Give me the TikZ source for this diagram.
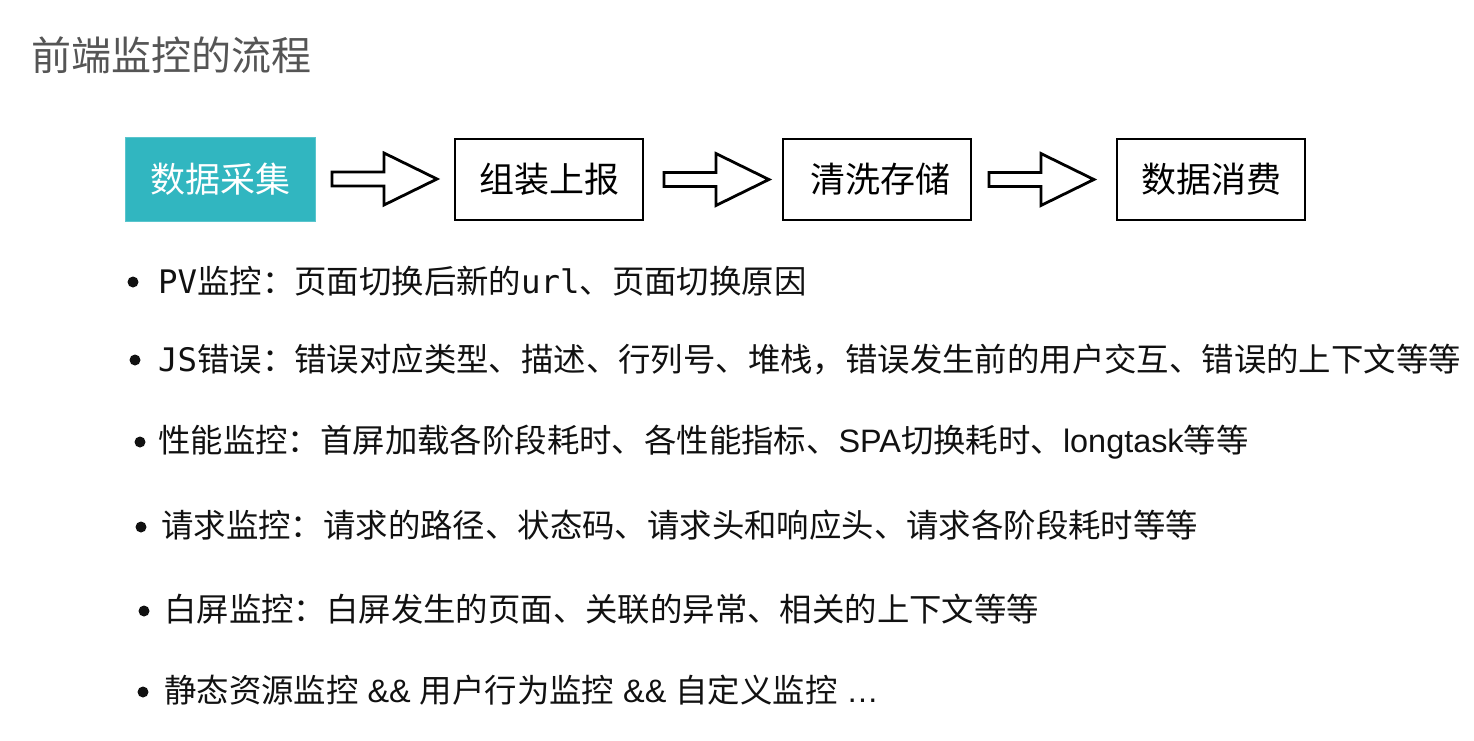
\documentclass[tikz,border=0pt]{standalone}
\usepackage{fontspec}
\setmainfont{Noto Sans CJK SC}
\newfontfamily\monofnt{DejaVu Sans Mono}
\newfontfamily\latfnt{Liberation Sans}
\usetikzlibrary{calc}
\definecolor{teal1}{HTML}{31B6C0}
\definecolor{titlegray}{HTML}{555555}
\definecolor{txt}{HTML}{111111}
\tikzset{
  stagebox/.style={draw=black, line width=2.8pt, minimum width=188pt, minimum height=81pt, inner sep=0pt,
    font=\fontsize{35}{40}\selectfont},
  firstbox/.style={fill=teal1, draw=teal1!80!white, line width=1pt, minimum width=190pt, minimum height=84pt, inner sep=0pt,
    text=white, font=\fontsize{35}{40}\selectfont},
  blockarrow/.style={draw=black, line width=2.8pt, line join=miter, fill=white},
  bulletdot/.style={circle, fill=txt, inner sep=0pt, minimum size=11pt},
  itemtext/.style={anchor=base west, inner sep=0pt, text=txt, font=\fontsize{32.4}{40}\selectfont},
}
\begin{document}
\begin{tikzpicture}[x=1pt, y=-1pt]
\useasboundingbox[fill=white] (0,0) rectangle (1474,740);
\node[anchor=base west, inner sep=0pt, text=titlegray, font=\fontsize{40}{48}\selectfont] (title) at (31,70) {前端监控的流程};

\node[firstbox] (b1) at (220,179) {数据采集};
\node[stagebox] (b2) at (549,179.5) {组装上报};
\node[stagebox] (b3) at (877,179.5) {\hspace*{6pt}清洗存储};
\node[stagebox] (b4) at (1211,179.5) {数据消费};

\draw[blockarrow] ($(b1.east)+(16.5,0)$) coordinate (s1) -- ++(0,-7) -- ++(52,0) -- ++(0,-19) -- ++(53,26) -- ++(-53,26) -- ++(0,-19) -- ++(-52,0) -- cycle;
\draw[blockarrow] ($(b2.east)+(19.5,0)$) coordinate (s2) -- ++(0,-7) -- ++(52,0) -- ++(0,-19) -- ++(53,26) -- ++(-53,26) -- ++(0,-19) -- ++(-52,0) -- cycle;
\draw[blockarrow] ($(b3.east)+(16.5,0)$) coordinate (s3) -- ++(0,-7) -- ++(52,0) -- ++(0,-19) -- ++(53,26) -- ++(-53,26) -- ++(0,-19) -- ++(-52,0) -- cycle;

\node[bulletdot] (d1) at (133,282) {};
\node[bulletdot] (d2) at (135,360) {};
\node[bulletdot] (d3) at (140,442) {};
\node[bulletdot] (d4) at (141,527) {};
\node[bulletdot] (d5) at (144,611) {};
\node[bulletdot] (d6) at (143,692) {};

\node[itemtext] (t1) at (158,293) {{\monofnt PV}监控：页面切换后新的{\monofnt url}、页面切换原因};
\node[itemtext] (t2) at (158,371) {{\monofnt JS}错误：错误对应类型、描述、行列号、堆栈，错误发生前的用户交互、错误的上下文等等};
\node[itemtext] (t3) at (158,452) {性能监控：首屏加载各阶段耗时、各性能指标、{\latfnt SPA}切换耗时、{\latfnt longtask}等等};
\node[itemtext] (t4) at (161,537) {请求监控：请求的路径、状态码、请求头和响应头、请求各阶段耗时等等};
\node[itemtext] (t5) at (164,621) {白屏监控：白屏发生的页面、关联的异常、相关的上下文等等};
\node[itemtext] (t6) at (164,702) {静态资源监控{\latfnt\ \&\& }用户行为监控{\latfnt\ \&\& }自定义监控{\latfnt\ …}};
\end{tikzpicture}
\end{document}
